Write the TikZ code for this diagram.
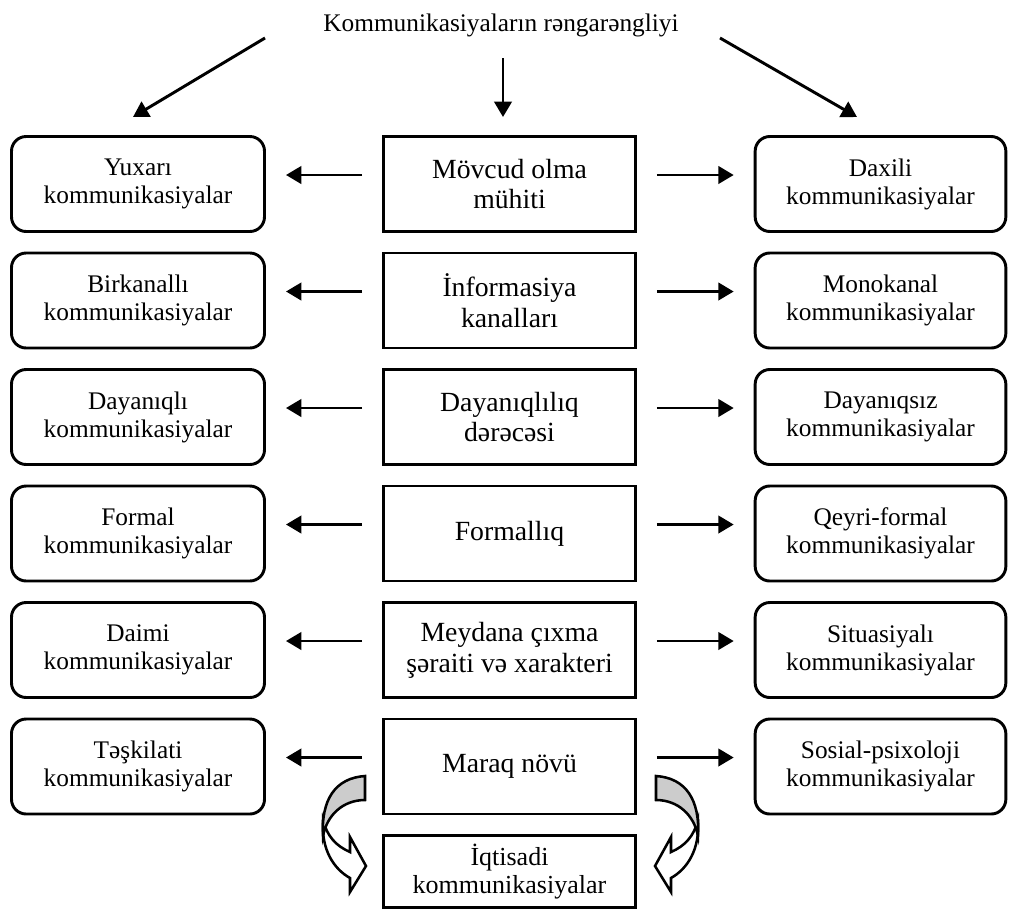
\documentclass[tikz,border=0pt]{standalone}
\usepackage{fontspec}
\setmainfont{Liberation Serif}
\usetikzlibrary{arrows.meta}

% Block arrow that bends round the left side and points right;
% drawn with its tip near the local origin column (x = 0).
\newcommand\curlarrowshape{%
  \draw[curlfront]
    (-42,820) .. controls (-44,850) and (-31,869) .. (-15,878)
    -- (-15,892) -- (1,866) -- (-15,837) -- (-15,852)
    .. controls (-29,846) and (-38,836) .. (-42,820) -- cycle;
  \draw[curlback]
    (0,776) .. controls (-30,778) and (-44,800) .. (-42,836)
    .. controls (-38,815) and (-22,800) .. (0,800) -- cycle;
}

\begin{document}
\begin{tikzpicture}[x=0.75pt,y=-0.75pt,
  boxline/.style={draw, line width=2.2pt, align=center, inner sep=0pt,
                  minimum height=71.25pt},
  leftbox/.style={boxline, rounded corners=11pt, minimum width=189.75pt,
                  font=\fontsize{19}{21}\selectfont},
  rightbox/.style={boxline, rounded corners=11pt, minimum width=188pt,
                  font=\fontsize{19}{21}\selectfont},
  midbox/.style={boxline, minimum width=189pt,
                  font=\fontsize{20.8}{23}\selectfont},
  lowbox/.style={boxline, minimum width=189pt, minimum height=54pt,
                  font=\fontsize{19.5}{21}\selectfont},
  titlenode/.style={font=\fontsize{19}{20}\selectfont, inner sep=0pt},
  arr/.style={line width=2.2pt, -{Triangle[length=11.5pt,width=13pt]}},
  harrow/.style={arr, shorten <=15pt, shorten >=15pt},
  curlfront/.style={draw, fill=white, line width=1.9pt, line join=miter},
  curlback/.style={draw, fill=black!20, line width=1.9pt, line join=miter}
]
\useasboundingbox (0,0) rectangle (1009,911);

% heading
\node[titlenode] (title) at (501,25) {Kommunikasiyaların rəngarəngliyi};

% central column
\node[midbox] (m1) at (509.5,184)   {Mövcud olma\\mühiti};
\node[midbox] (m2) at (509.5,300.5) {İnformasiya\\kanalları};
\node[midbox] (m3) at (509.5,417)   {Dayanıqlılıq\\dərəcəsi};
\node[midbox] (m4) at (509.5,533.5) {Formallıq};
\node[midbox] (m5) at (509.5,650)   {Meydana çıxma\\şəraiti və xarakteri};
\node[midbox] (m6) at (509.5,766.5) {Maraq növü};
\node[lowbox] (m7) at (509.5,871.5) {İqtisadi\\kommunikasiyalar};

% left column
\node[leftbox] (l1) at (138,184)   {Yuxarı\\kommunikasiyalar};
\node[leftbox] (l2) at (138,300.5) {Birkanallı\\kommunikasiyalar};
\node[leftbox] (l3) at (138,417)   {Dayanıqlı\\kommunikasiyalar};
\node[leftbox] (l4) at (138,533.5) {Formal\\kommunikasiyalar};
\node[leftbox] (l5) at (138,650)   {Daimi\\kommunikasiyalar};
\node[leftbox] (l6) at (138,766.5) {Təşkilati\\kommunikasiyalar};

% right column
\node[rightbox] (r1) at (880.5,184)   {Daxili\\kommunikasiyalar};
\node[rightbox] (r2) at (880.5,300.5) {Monokanal\\kommunikasiyalar};
\node[rightbox] (r3) at (880.5,417)   {Dayanıqsız\\kommunikasiyalar};
\node[rightbox] (r4) at (880.5,533.5) {Qeyri-formal\\kommunikasiyalar};
\node[rightbox] (r5) at (880.5,650)   {Situasiyalı\\kommunikasiyalar};
\node[rightbox] (r6) at (880.5,766.5) {Sosial-psixoloji\\kommunikasiyalar};

% arrows out of the heading
\coordinate (ts1) at (265,38);
\coordinate (ts2) at (503,58);
\coordinate (ts3) at (720,38);
\coordinate (te1) at (133,117);
\coordinate (te2) at (503,117);
\coordinate (te3) at (857,117);
\draw[arr] (ts1) -- (te1);
\draw[arr] (ts2) -- (te2);
\draw[arr] (ts3) -- (te3);

% arrows from each criterion to both kinds
\foreach \i in {1,...,6}{
  \draw[harrow] ([yshift=6.75pt]m\i.west) -- ([yshift=6.75pt]l\i.east);
  \draw[harrow] ([yshift=6.75pt]m\i.east) -- ([yshift=6.75pt]r\i.west);
}

% bent block arrows towards the economic communications box
\begin{scope}[shift={(365,0)}]
  \curlarrowshape
\end{scope}
\begin{scope}[shift={(656,0)}, xscale=-1]
  \curlarrowshape
\end{scope}
\end{tikzpicture}
\end{document}
